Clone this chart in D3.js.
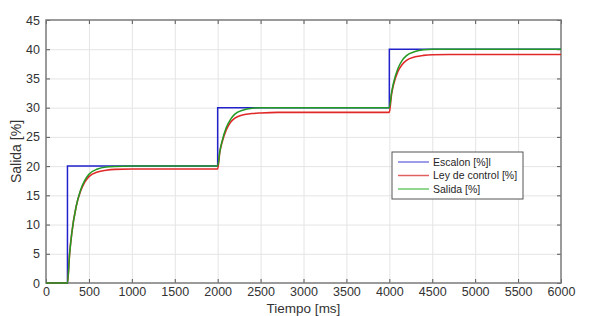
<!DOCTYPE html>
<html>
<head>
<meta charset="utf-8">
<script src="https://cdn.jsdelivr.net/npm/d3@7"></script>
<style>
  html, body { margin: 0; padding: 0; background: #fff; }
  svg { display: block; font-family: "Liberation Sans", Arial, sans-serif; }
</style>
</head>
<body>
<div id="chart"></div>
<script>
// --- datos ---
const xTicks = [0, 500, 1000, 1500, 2000, 2500, 3000, 3500, 4000, 4500, 5000, 5500, 6000];
const yTicks = [0, 5, 10, 15, 20, 25, 30, 35, 40, 45];

const escalonT = [0, 250, 250, 2000, 2000, 4000, 4000, 6000];
const escalonV = [0, 0, 20, 20, 30, 30, 40, 40];

const respT = [0, 250, 275, 300, 350, 400, 450, 500, 600, 700, 800, 1000, 1500, 2000,
  2025, 2050, 2100, 2150, 2200, 2300, 2400, 2500, 2700, 3000, 4000,
  4025, 4050, 4100, 4150, 4200, 4300, 4400, 4500, 4700, 5000, 6000];
const leyControl = [0, 0, 5, 8.5, 13, 15.6, 17.2, 18.2, 19.0, 19.3, 19.45, 19.5, 19.5, 19.5,
  22.4, 24.0, 26.2, 27.5, 28.2, 28.8, 29.0, 29.1, 29.2, 29.2, 29.2,
  32.2, 34.0, 36.2, 37.4, 38.1, 38.7, 38.95, 39.05, 39.1, 39.1, 39.1];
const salida = [0, 0, 5, 8.5, 13, 15.8, 17.5, 18.6, 19.5, 19.85, 19.95, 20, 20, 20,
  22.5, 24.2, 26.6, 28.0, 28.9, 29.6, 29.9, 30, 30, 30, 30,
  32.5, 34.3, 36.7, 38.1, 38.9, 39.6, 39.9, 40, 40, 40, 40];

const legendLabels = ["Escalon [%]l", "Ley de control [%]", "Salida [%]"];

const W = 589, H = 316;
const m = { left: 46, right: 28, top: 20, bottom: 33 };

const svg = d3.select("#chart").append("svg")
  .attr("width", W).attr("height", H);

const x = d3.scaleLinear().domain([0, 6000]).range([m.left, W - m.right]);
const y = d3.scaleLinear().domain([0, 45]).range([H - m.bottom, m.top]);

// rejilla
const grid = svg.append("g").attr("stroke", "#e4e4e4").attr("stroke-width", 1);
grid.selectAll(".gx").data(xTicks.slice(1, -1)).join("line")
  .attr("x1", d => x(d) + 0.5).attr("x2", d => x(d) + 0.5)
  .attr("y1", y(0)).attr("y2", y(45));
grid.selectAll(".gy").data(yTicks.slice(1, -1)).join("line")
  .attr("y1", d => y(d) + 0.5).attr("y2", d => y(d) + 0.5)
  .attr("x1", x(0)).attr("x2", x(6000));

// ejes estilo MATLAB (ticks hacia dentro)
const axisColor = "#7a7a7a";
const fmt = d3.format("d");
const styleAxis = g => {
  g.select(".domain").remove();
  g.selectAll("line").attr("stroke", "#555");
  g.selectAll("text").attr("fill", "#333").attr("font-size", 12.5);
};
svg.append("g").attr("transform", `translate(0,${y(0)})`)
  .call(d3.axisBottom(x).tickValues(xTicks).tickFormat(fmt).tickSizeInner(-4).tickSizeOuter(0).tickPadding(4))
  .call(styleAxis);
svg.append("g").attr("transform", `translate(0,${y(45)})`)
  .call(d3.axisTop(x).tickValues(xTicks).tickSizeInner(-4).tickSizeOuter(0).tickFormat(""))
  .call(styleAxis);
svg.append("g").attr("transform", `translate(${x(0)},0)`)
  .call(d3.axisLeft(y).tickValues(yTicks).tickFormat(fmt).tickSizeInner(-4).tickSizeOuter(0).tickPadding(6))
  .call(styleAxis);
svg.append("g").attr("transform", `translate(${x(6000)},0)`)
  .call(d3.axisRight(y).tickValues(yTicks).tickSizeInner(-4).tickSizeOuter(0).tickFormat(""))
  .call(styleAxis);

svg.append("rect")
  .attr("x", x(0)).attr("y", y(45))
  .attr("width", x(6000) - x(0)).attr("height", y(0) - y(45))
  .attr("fill", "none").attr("stroke", axisColor).attr("stroke-width", 1.5);

// series
const plot = svg.append("g");
const stepLine = d3.line().x(d => x(d[0])).y(d => y(d[1]));
const smoothLine = d3.line().x(d => x(d[0])).y(d => y(d[1])).curve(d3.curveMonotoneX);

plot.append("path")
  .datum(d3.zip(escalonT, escalonV))
  .attr("d", stepLine).attr("fill", "none")
  .attr("stroke", "#2222cc").attr("stroke-width", 1.5);
plot.append("path")
  .datum(d3.zip(respT, leyControl))
  .attr("d", smoothLine).attr("fill", "none")
  .attr("stroke", "#e02828").attr("stroke-width", 1.6);
plot.append("path")
  .datum(d3.zip(respT, salida))
  .attr("d", smoothLine).attr("fill", "none")
  .attr("stroke", "#239a23").attr("stroke-width", 1.5);

// etiquetas de ejes
svg.append("text")
  .attr("x", (x(0) + x(6000)) / 2).attr("y", H - 3)
  .attr("text-anchor", "middle").attr("font-size", 13.5).attr("fill", "#333")
  .text("Tiempo [ms]");
svg.append("text")
  .attr("transform", `translate(21,${(y(0) + y(45)) / 2}) rotate(-90)`)
  .attr("text-anchor", "middle").attr("font-size", 14).attr("fill", "#333")
  .text("Salida [%]");

// leyenda
const legendColors = ["#7b7be0", "#e06060", "#6cc86c"];
const lg = svg.append("g").attr("transform", "translate(392,152)");
lg.append("rect").attr("width", 131).attr("height", 47)
  .attr("fill", "#fff").attr("stroke", "#555").attr("stroke-width", 1);
legendLabels.forEach((lab, i) => {
  const ly = 10 + i * 13.5;
  lg.append("line").attr("x1", 6).attr("x2", 37).attr("y1", ly).attr("y2", ly)
    .attr("stroke", legendColors[i]).attr("stroke-width", 1.5);
  lg.append("text").attr("x", 41).attr("y", ly + 3.8)
    .attr("font-size", 10.5).attr("fill", "#262626").text(lab);
});
</script>
</body>
</html>
